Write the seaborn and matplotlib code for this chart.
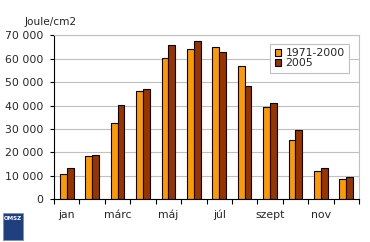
import numpy as np
import pandas as pd
import matplotlib
matplotlib.use('Agg')
import matplotlib.pyplot as plt
import seaborn as sns
from matplotlib.ticker import FuncFormatter
from matplotlib.patches import Rectangle

sns.set_style('white')
plt.rcParams['font.family'] = ['DejaVu Sans']

# 数据
months = ['jan', 'febr', 'márc', 'ápr', 'máj', 'jún', 'júl', 'aug', 'szept', 'okt', 'nov', 'dec']
month_labels = ['jan', 'márc', 'máj', 'júl', 'szept', 'nov']
normal = [11000, 18400, 32500, 46300, 60300, 64000, 65200, 57000, 39500, 25300, 12100, 8700]
y2005 = [13200, 18700, 40200, 47200, 66000, 67700, 63000, 48500, 41200, 29600, 13300, 9600]
series = ['1971-2000', '2005']
colors = ['#FF9900', '#993300']

df = pd.DataFrame({
    'month': months * 2,
    'period': [series[0]] * 12 + [series[1]] * 12,
    'value': normal + y2005,
})

fig = plt.figure(figsize=(3.7, 2.42), dpi=100)
ax = fig.add_axes([54/370, 1-199.3/242, 305/370, 164/242])

sns.barplot(data=df, x='month', y='value', hue='period', order=months,
            hue_order=series, palette=colors, saturation=1, width=0.54,
            edgecolor='black', linewidth=0.8, ax=ax)

ax.set_xlim(-0.5, 11.5)
ax.set_ylim(0, 70000)
ax.set_yticks(np.arange(0, 70001, 10000))
ax.yaxis.set_major_formatter(FuncFormatter(lambda v, p: f'{int(v):,}'.replace(',', ' ')))
ax.yaxis.grid(True, color='#c0c0c0', linewidth=0.8)
ax.set_axisbelow(True)

# x轴刻度在类别边界，标签隔月显示
ax.set_xticks(np.arange(-0.5, 12, 1))
ax.set_xticklabels([])
ax.set_xticks([0, 2, 4, 6, 8, 10], minor=True)
ax.set_xticklabels(month_labels, minor=True)
ax.tick_params(axis='x', which='major', direction='out', length=3.5, width=0.8, color='black', bottom=True)
ax.tick_params(axis='x', which='minor', length=0, pad=7.5, labelsize=7.8)
ax.tick_params(axis='y', direction='out', length=3, width=0.8, color='black', left=True, pad=5, labelsize=7.8)
ax.set_xlabel('')
ax.set_ylabel('')

for s in ['left', 'bottom']:
    ax.spines[s].set_color('black')
    ax.spines[s].set_linewidth(0.8)
for s in ['top', 'right']:
    ax.spines[s].set_color('#c0c0c0')
    ax.spines[s].set_linewidth(0.8)

leg = ax.legend(loc='upper right', bbox_to_anchor=(0.967, 0.947), fontsize=7.8,
                frameon=True, fancybox=False, framealpha=1, edgecolor='#c0c0c0',
                handlelength=0.6, handleheight=0.6, handletextpad=0.4,
                labelspacing=0.0, borderpad=0.4, borderaxespad=0)
leg.get_frame().set_linewidth(0.8)

fig.text(25/370, 1-22/242, 'Joule/cm2', fontsize=7.6, va='center', ha='left')

# OMSZ 标志（简化）
fig.patches.append(Rectangle((3/370, 1-240/242), 20/370, 27/242, transform=fig.transFigure,
                             facecolor='#1f3f7f', edgecolor='#8090b0', linewidth=0.6))
fig.text(13/370, 1-218/242, 'OMSZ', fontsize=4, color='white', ha='center', va='center',
         fontweight='bold')

plt.savefig('out.png', dpi=100)
